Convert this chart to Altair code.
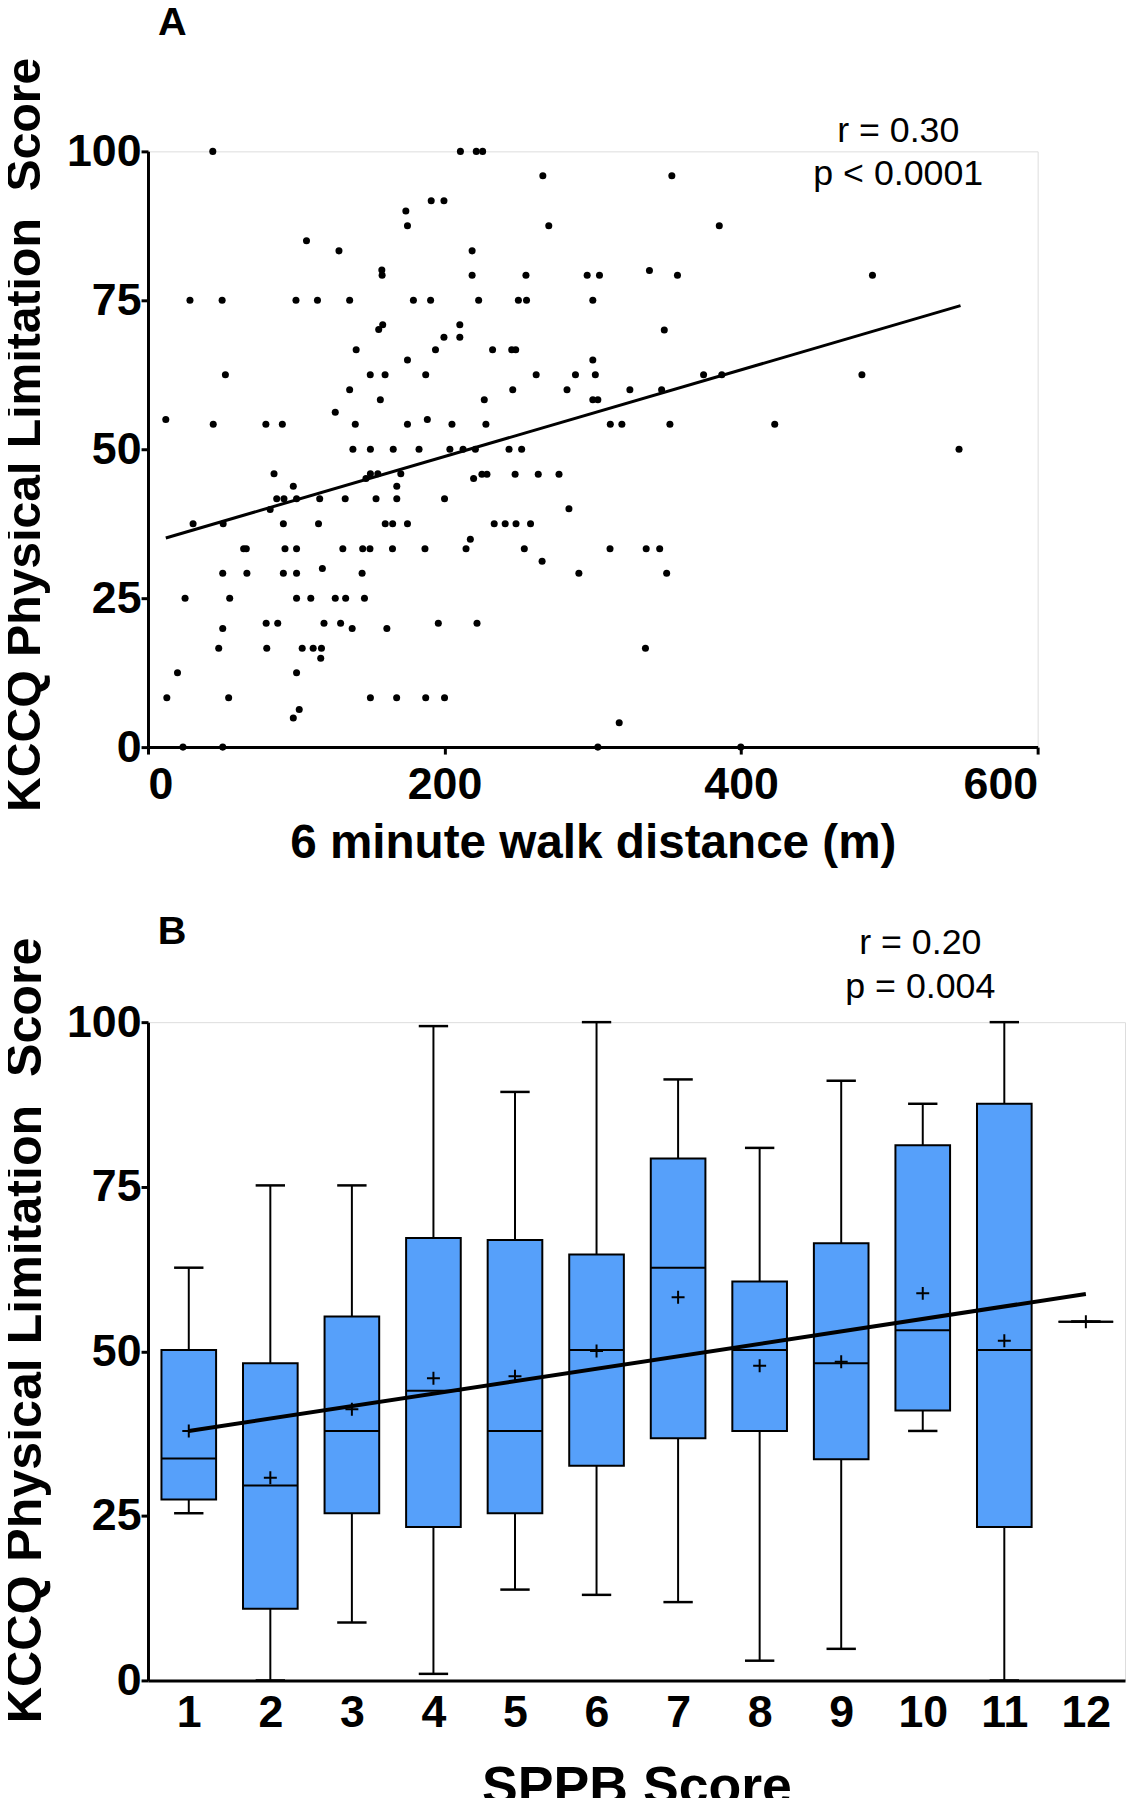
import altair as alt
import pandas as pd

FONT = "Liberation Sans"

# ---------------- Panel A data (6MWD vs KCCQ-PL) ----------------
walk_m = [
    43.7, 210.7, 221.4, 225.7, 191, 199.6, 173.9, 175, 106.9, 128.8, 218.6, 157.7, 157.9, 218.6,
    28.3, 50, 99.8, 114.3, 136, 179, 190.6, 223,
    158.3, 155.6, 210.3, 199.6, 210.3, 140.4, 193.9, 175,
    52.2, 149.9, 159.9, 187.3, 136, 156.7, 126.3, 12, 188.4,
    44, 79.5, 90.6, 139.8, 175, 205,
    266.3, 353.3, 270.3, 385.3, 254.9, 296.2, 304.5, 357.1, 338.2, 249.8, 255.3, 300, 348.2, 232.4, 245.3, 248, 300,
    261.8, 288.3, 301.7, 374.7, 387, 246, 282.6, 325, 346.4, 226.8, 300, 303.4,
    227.9, 311.8, 319.6, 352, 422.7,
    488.6, 481.5, 547,
    138.2, 150, 165.4, 182.8, 203.6, 212.5, 220.8,
    85, 150, 155, 147, 170.5, 98, 167.8, 219.6,
    86.8, 91.7, 100.2, 115.8, 133, 153.8, 167.8, 200,
    82.4,
    30.4, 50.7, 91.3, 115, 160, 165, 175,
    217.4,
    64.5, 66.3, 92.4, 100.2, 131.4, 144.8, 149.7, 164.9, 186.8, 214.5,
    117.6,
    50.4, 66.7, 91.3, 100.2, 144.4,
    25, 55.1, 100.2, 109.8, 126.3, 133.3, 146,
    79.7, 87.5, 118.7, 129.9, 195.8, 221.9,
    50.4, 137.7, 161.1,
    47.7, 80.1, 104, 111.4, 117,
    116.5, 19.9, 100.2,
    12.7, 54.4, 150, 167.7, 187.3, 200,
    102, 98, 23.6, 50.4,
    243.5, 252, 225.2, 228.6, 247.6, 263.2, 277.2, 283.9,
    233.5, 240.9, 248.2, 258,
    253.8, 311.6, 336, 345.1, 265.8, 290.6, 349.8, 335.5, 317.8, 303.4, 399.8,
]
kccq_a = [
    100, 100, 100, 100, 91.7, 91.7, 90, 87.5, 85, 83.3, 83.3, 80.1, 79.2, 79.2,
    75, 75, 75, 75, 75, 75, 75, 75,
    70.9, 70.1, 70.9, 68.8, 68.8, 66.7, 66.7, 65,
    62.5, 62.5, 62.5, 62.5, 60, 58.3, 56.2, 55, 55,
    54.2, 54.2, 54.2, 54.2, 54.2, 54.2,
    95.9, 95.9, 87.5, 87.5, 79.2, 79.2, 79.2, 79.2, 80, 75, 75, 75, 70, 66.7, 66.7, 66.7, 65,
    62.5, 62.5, 62.5, 62.5, 62.5, 60, 60, 60, 60, 58.3, 58.3, 58.3,
    54.2, 54.2, 54.2, 54.2, 54.2,
    79.2, 62.5, 50,
    50, 50, 50, 50, 50, 50, 50,
    45.9, 45.9, 45.9, 45.1, 45.9, 43.8, 43.8, 45.1,
    41.7, 41.7, 41.7, 41.7, 41.7, 41.7, 41.7, 41.7,
    39.9,
    37.5, 37.5, 37.5, 37.5, 37.5, 37.5, 37.5,
    34.9,
    33.3, 33.3, 33.3, 33.3, 33.3, 33.3, 33.3, 33.3, 33.3, 33.3,
    30,
    29.2, 29.2, 29.2, 29.2, 29.2,
    25, 25, 25, 25, 25, 25, 25,
    20.8, 20.8, 20.8, 20.8, 20.8, 20.8,
    19.9, 19.9, 19.9,
    16.6, 16.6, 16.6, 16.6, 16.6,
    14.9, 12.5, 12.5,
    8.3, 8.3, 8.3, 8.3, 8.3, 8.3,
    6.3, 4.9, 0, 0,
    50, 50, 45.8, 45.8, 45.8, 45.8, 45.8, 40,
    37.5, 37.5, 37.5, 37.5,
    33.3, 33.3, 33.3, 33.3, 31.2, 29.2, 29.2, 16.6, 4.1, 0, 0,
]
fit_a_x = [12, 548]
fit_a_y = [35.1, 74.1]

# ---------------- Panel B data (SPPB vs KCCQ-PL) ----------------
sppb = [1, 2, 3, 4, 5, 6, 7, 8, 9, 10, 11, 12]
whisk_lo = [25.4, 0, 8.8, 1.0, 13.8, 13.0, 11.9, 3.0, 4.8, 37.9, 0, 54.5]
q1 = [27.5, 10.9, 25.4, 23.3, 25.4, 32.6, 36.8, 37.9, 33.6, 41.0, 23.3, 54.5]
median = [33.7, 29.6, 37.9, 44.0, 37.9, 50.2, 62.7, 50.2, 48.2, 53.2, 50.2, 54.5]
q3 = [50.2, 48.2, 55.3, 67.2, 66.9, 64.7, 79.3, 60.6, 66.4, 81.3, 87.6, 54.5]
whisk_hi = [62.7, 75.2, 75.2, 99.4, 89.4, 100, 91.3, 80.9, 91.1, 87.6, 100, 54.5]
mean = [37.9, 30.8, 41.2, 45.9, 46.2, 50.05, 58.2, 47.8, 48.4, 58.8, 51.6, 54.5]
fit_b_x = [1, 12]
fit_b_y = [37.9, 58.7]

BOX_HALF = 0.335   # half box width in SPPB units
CAP_HALF = 0.18    # half whisker-cap width in SPPB units
BLUE = "#56a0fa"
Y_TITLE = "KCCQ Physical Limitation\u00a0 Score"

axis_common = dict(
    domainColor="black", domainWidth=3, tickColor="black", tickWidth=3, tickSize=7,
    labelFont=FONT, labelFontSize=45, labelFontWeight="bold", labelColor="black",
    titleFont=FONT, titleFontWeight="bold", titleColor="black",
    grid=False,
)

# ---------------- Panel A ----------------
pts = pd.DataFrame({"walk": walk_m, "kccq": kccq_a})
xa = alt.Scale(domain=[0, 600], nice=False)
ya = alt.Scale(domain=[0, 100], nice=False)

scatter = alt.Chart(pts).mark_circle(size=50, color="black", opacity=1).encode(
    x=alt.X("walk:Q", scale=xa, axis=alt.Axis(values=[0, 200, 400, 600], title="6 minute walk distance (m)",
                                             titleFontSize=48, labelPadding=9, titlePadding=12, **axis_common)),
    y=alt.Y("kccq:Q", scale=ya, axis=alt.Axis(values=[0, 25, 50, 75, 100], title=Y_TITLE, titleFontSize=48.5,
                                             labelPadding=0, titlePadding=17, titleY=285, **axis_common)),
)
fit_a = alt.Chart(pd.DataFrame({"walk": fit_a_x, "kccq": fit_a_y})).mark_line(color="black", strokeWidth=3).encode(
    x=alt.X("walk:Q", scale=xa), y=alt.Y("kccq:Q", scale=ya))

ann_a = pd.DataFrame({"t": ["r = 0.30", "p < 0.0001"], "x": [506, 506], "y": [101.6, 94.4]})
text_a = alt.Chart(ann_a).mark_text(font=FONT, fontSize=36, color="black", align="center", baseline="alphabetic").encode(
    x=alt.X("x:Q", scale=xa), y=alt.Y("y:Q", scale=ya), text="t:N")
lab_a = alt.Chart(pd.DataFrame({"t": ["A"], "x": [6.7], "y": [119.5]})).mark_text(
    font=FONT, fontSize=40, fontWeight="bold", color="black", align="left", baseline="alphabetic").encode(
    x=alt.X("x:Q", scale=xa), y=alt.Y("y:Q", scale=ya), text="t:N")

panel_a = alt.layer(scatter, fit_a, text_a, lab_a).properties(width=896, height=600)

# ---------------- Panel B ----------------
bx = pd.DataFrame({"s": sppb, "lo": whisk_lo, "q1": q1, "med": median, "q3": q3, "hi": whisk_hi, "mean": mean})
bx["b0"] = bx["s"] - BOX_HALF
bx["b1"] = bx["s"] + BOX_HALF
bx["c0"] = bx["s"] - CAP_HALF
bx["c1"] = bx["s"] + CAP_HALF
xb = alt.Scale(domain=[0.5, 12.48], nice=False, zero=False)
yb = alt.Scale(domain=[0, 100], nice=False)

base_b = alt.Chart(bx)
upper = base_b.mark_rule(color="black", strokeWidth=2).encode(
    x=alt.X("s:Q", scale=xb, axis=alt.Axis(values=sppb, format="d", title="SPPB Score", titleFontSize=54,
                                          ticks=False, labelPadding=10, titlePadding=26, **axis_common)),
    y=alt.Y("q3:Q", scale=yb, axis=alt.Axis(values=[0, 25, 50, 75, 100], title=Y_TITLE, titleFontSize=50.5,
                                          labelPadding=0, titlePadding=15, titleY=310, **axis_common)),
    y2="hi:Q")
lower = base_b.mark_rule(color="black", strokeWidth=2).encode(
    x=alt.X("s:Q", scale=xb), y=alt.Y("lo:Q", scale=yb), y2="q1:Q")
cap_hi = base_b.mark_rule(color="black", strokeWidth=2.5).encode(
    x=alt.X("c0:Q", scale=xb), x2="c1:Q", y=alt.Y("hi:Q", scale=yb))
cap_lo = base_b.mark_rule(color="black", strokeWidth=2.5).encode(
    x=alt.X("c0:Q", scale=xb), x2="c1:Q", y=alt.Y("lo:Q", scale=yb))
boxes = base_b.mark_rect(fill=BLUE, stroke="black", strokeWidth=2).encode(
    x=alt.X("b0:Q", scale=xb), x2="b1:Q", y=alt.Y("q1:Q", scale=yb), y2="q3:Q")
med_rule = base_b.mark_rule(color="black", strokeWidth=2).encode(
    x=alt.X("b0:Q", scale=xb), x2="b1:Q", y=alt.Y("med:Q", scale=yb))
mean_pt = base_b.mark_point(shape="M-1,0L1,0M0,-1L0,1", filled=False, color="black", strokeWidth=2,
                            size=170, opacity=1).encode(
    x=alt.X("s:Q", scale=xb), y=alt.Y("mean:Q", scale=yb))
fit_b = alt.Chart(pd.DataFrame({"s": fit_b_x, "v": fit_b_y})).mark_line(color="black", strokeWidth=4).encode(
    x=alt.X("s:Q", scale=xb), y=alt.Y("v:Q", scale=yb))

ann_b = pd.DataFrame({"t": ["r = 0.20", "p = 0.004"], "x": [9.97, 9.97], "y": [110.3, 103.6]})
text_b = alt.Chart(ann_b).mark_text(font=FONT, fontSize=36, color="black", align="center", baseline="alphabetic").encode(
    x=alt.X("x:Q", scale=xb), y=alt.Y("y:Q", scale=yb), text="t:N")
lab_b = alt.Chart(pd.DataFrame({"t": ["B"], "x": [0.62], "y": [111.8]})).mark_text(
    font=FONT, fontSize=40, fontWeight="bold", color="black", align="left", baseline="alphabetic").encode(
    x=alt.X("x:Q", scale=xb), y=alt.Y("y:Q", scale=yb), text="t:N")

panel_b = alt.layer(upper, lower, cap_hi, cap_lo, boxes, med_rule, fit_b, mean_pt, text_b, lab_b).properties(
    width=984, height=663)

chart = alt.vconcat(panel_a, panel_b, spacing=44).properties(
    padding={"left": -8, "top": -12, "right": 0, "bottom": -24}
).configure_view(stroke=None).configure(background="white")

chart.save("out.html", embed_options={"renderer": "svg", "actions": False})
